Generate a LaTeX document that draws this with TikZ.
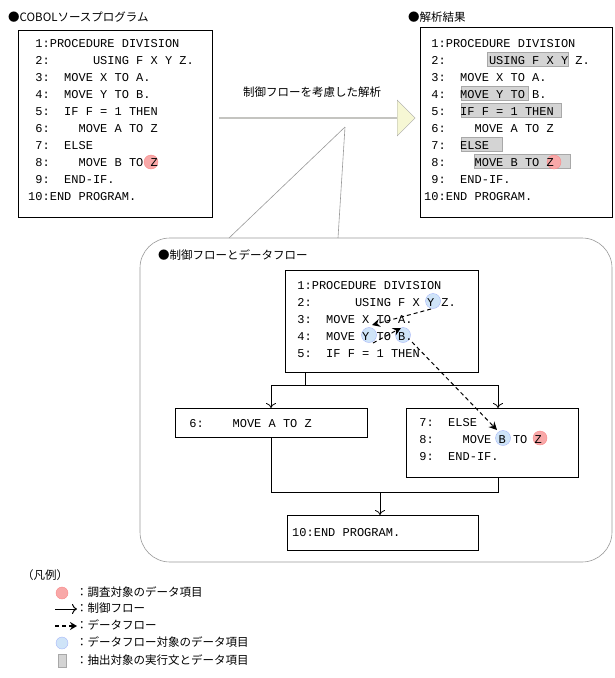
\documentclass[tikz,border=0pt]{standalone}
\usepackage{fontspec}
\setmainfont{Noto Sans CJK JP}
\newfontfamily\mono{Liberation Mono}
\usetikzlibrary{arrows.meta,shapes.arrows}
\definecolor{hl}{HTML}{D4D4D4}
\definecolor{hlb}{HTML}{A8A8A8}
\definecolor{redc}{HTML}{F8A8A8}
\definecolor{bluec}{HTML}{CFE4F8}
\definecolor{yel}{HTML}{F6F7D4}
\tikzset{
 code/.style={anchor=base west,inner sep=0,font=\mono\fontsize{12}{12}\selectfont},
 jp/.style={anchor=west,inner sep=0,font=\fontsize{11.5}{12}\selectfont},
 box/.style={draw,line width=0.9pt},
 hlr/.style={fill=hl,draw=hlb,line width=0.5pt},
 red/.style={fill=redc,draw=redc!80!red,line width=0.4pt},
 blue/.style={fill=bluec,draw=bluec!80!blue,line width=0.4pt},
 cf/.style={line width=0.8pt,-{To[length=5pt,width=10pt]}},
 df/.style={line width=1pt,dash pattern=on 4pt off 3pt,-{Stealth[length=8pt,width=8pt]}},
}
\begin{document}
\begin{tikzpicture}[x=1pt,y=-1pt]
\useasboundingbox (0,0) rectangle (614,678);
% titles
\node[jp] (t1) at (8,17) {●COBOLソースプログラム};
\node[jp] (t2) at (408,17) {●解析結果};
% left box
\draw[box] (18,30) rectangle (212,217);
\fill[red] (151,162) circle (7);
\foreach \i/\t in {1/~1:PROCEDURE DIVISION,2/~2:~~~~~~USING F X Y Z.,3/~3:~~MOVE X TO A.,4/~4:~~MOVE Y TO B.,5/~5:~~IF F = 1 THEN,6/~6:~~~~MOVE A TO Z,7/~7:~~ELSE,8/~8:~~~~MOVE B TO Z,9/~9:~~END-IF.,10/10:END PROGRAM.}
  \node[code] (a\i) at (28,{30+17*\i}) {\t};
% right box
\draw[box] (420,27) rectangle (612,217);
\fill[hlr] (487,52) rectangle (568,66);
\fill[hlr] (461,86) rectangle (528,100);
\fill[hlr] (461,103) rectangle (561,117);
\fill[hlr] (461,137) rectangle (502,151);
\fill[hlr] (474,154) rectangle (570,168);
\fill[red] (554,162) circle (7);
\foreach \i/\t in {1/~1:PROCEDURE DIVISION,2/~2:~~~~~~USING F X Y Z.,3/~3:~~MOVE X TO A.,4/~4:~~MOVE Y TO B.,5/~5:~~IF F = 1 THEN,6/~6:~~~~MOVE A TO Z,7/~7:~~ELSE,8/~8:~~~~MOVE B TO Z,9/~9:~~END-IF.,10/10:END PROGRAM.}
  \node[code] (b\i) at (424,{30+17*\i}) {\t};
% big arrow
\node[single arrow,draw=gray!70,fill=yel,minimum height=196pt,minimum width=36pt,single arrow head extend=8pt,inner sep=0,anchor=tail] (arr) at (219,118) {};
\node[jp,anchor=center] (albl) at (312,92) {制御フローを考慮した解析};
% region
\draw[gray!80,line width=0.6pt] (140,268) arc[start angle=180,end angle=270,radius=30] -- (582,238) arc[start angle=270,end angle=360,radius=30] -- (612,532) arc[start angle=0,end angle=90,radius=30] -- (170,562) arc[start angle=90,end angle=180,radius=30] -- cycle;
\coordinate (cp) at (345,127);
\draw[gray!80,line width=0.6pt] (cp) -- (229,238);
\draw[gray!80,line width=0.6pt] (cp) -- (338,238);
\node[jp] (t3) at (158,255) {●制御フローとデータフロー};
% top inner box
\draw[box] (285,270) rectangle (478,372);
\fill[blue] (433,301) circle (7.5);
\fill[blue] (369,335) circle (7.5);
\fill[blue] (403,335) circle (7.5);
\foreach \i/\t in {1/~1:PROCEDURE DIVISION,2/~2:~~~~~~USING F X Y Z.,3/~3:~~MOVE X TO A.,4/~4:~~MOVE Y TO B.,5/~5:~~IF F = 1 THEN}
  \node[code] (c\i) at (290,{272+17*\i}) {\t};
% box 6
\node[box,minimum width=192pt,minimum height=29pt,anchor=north west,inner sep=0] (n6) at (175,408) {};
\node[code] (c6) at (182,427) {~6:~~~~MOVE A TO Z};
% box 7-9
\node[box,minimum width=172pt,minimum height=69pt,anchor=north west,inner sep=0] (n7) at (406,408) {};
\fill[blue] (503,438) circle (7.5);
\fill[red] (540,438) circle (7);
\node[code] (c7) at (412,426) {~7:~~ELSE};
\node[code] (c8) at (412,443) {~8:~~~~MOVE B TO Z};
\node[code] (c9) at (412,460) {~9:~~END-IF.};
% box 10
\node[box,minimum width=191pt,minimum height=35pt,anchor=north west,inner sep=0] (n10) at (287,515) {};
\node[code] (c10) at (292,536) {10:END PROGRAM.};
% control flow
\coordinate (s1) at (305,372);
\coordinate (s2) at (305,385);
\coordinate (l1) at (271,385);
\coordinate (r1) at (498,385);
\draw[line width=0.8pt] (s1) -- (s2) (l1) -- (r1);
\draw[cf] (l1) -- (n6.north -| l1);
\draw[cf] (r1) -- (n7.north -| r1);
\coordinate (j1) at (271,492);
\coordinate (j2) at (498,492);
\coordinate (j3) at (380,492);
\draw[line width=0.8pt] (n6.south -| j1) -- (j1) -- (j2) -- (n7.south -| j2);
\draw[cf] (j3) -- (n10.north -| j3);
% data flow
\draw[df] (431,309) -- (372,325);
\draw[df] (373,343) -- (401,328);
\draw[df] (412,342) -- (497,430);
% legend
\node[jp] (lg) at (22,575) {（凡例）};
\fill[red] (62,593) circle (6);
\node[jp] (lg1) at (76,592) {：調査対象のデータ項目};
\coordinate (la1) at (55,609);
\coordinate (la2) at (77,609);
\draw[line width=1pt,-{To[length=5pt,width=10pt]}] (la1) -- (la2);
\node[jp] (lg2) at (76,608) {：制御フロー};
\coordinate (lb1) at (55,626);
\coordinate (lb2) at (77,626);
\draw[line width=1.2pt,dash pattern=on 4pt off 3pt,-{Stealth[length=7pt,width=8pt]}] (lb1) -- (lb2);
\node[jp] (lg3) at (76,625) {：データフロー};
\fill[blue] (62,643) circle (6);
\node[jp] (lg4) at (76,642) {：データフロー対象のデータ項目};
\fill[hlr] (58,654) rectangle (66,667);
\node[jp] (lg5) at (76,660) {：抽出対象の実行文とデータ項目};
\end{tikzpicture}
\end{document}
